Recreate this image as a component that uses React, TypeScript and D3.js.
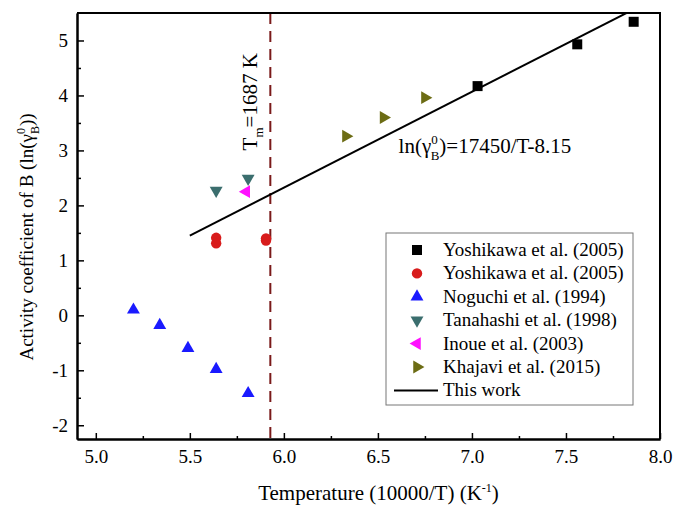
import React, { useEffect, useRef } from 'react';
import * as d3 from 'd3';

// values
const yoshikawaSqX = [7.03, 7.56, 7.86];
const yoshikawaSqY = [4.17, 4.93, 5.34];
const yoshikawaCircX = [5.64, 5.64, 5.905, 5.905];
const yoshikawaCircY = [1.41, 1.31, 1.4, 1.36];
const noguchiX = [5.2, 5.34, 5.49, 5.64, 5.81];
const noguchiY = [0.1, -0.18, -0.6, -0.98, -1.42];
const tanahashiX = [5.64, 5.81];
const tanahashiY = [2.27, 2.49];
const inoueX = [5.8];
const inoueY = [2.25];
const khajaviX = [6.33, 6.53, 6.75];
const khajaviY = [3.26, 3.6, 3.96];
const fitX = [5.5, 8.0];
const fitY = [1.45, 5.81];
const meltX = 5.928;

const xTicks = [5.0, 5.5, 6.0, 6.5, 7.0, 7.5, 8.0];
const xMinor = [5.25, 5.75, 6.25, 6.75, 7.25, 7.75];
const yTicks = [-2, -1, 0, 1, 2, 3, 4, 5];
const yMinor = [-1.5, -0.5, 0.5, 1.5, 2.5, 3.5, 4.5];

const legendLabels = [
  'Yoshikawa et al. (2005)',
  'Yoshikawa et al. (2005)',
  'Noguchi et al. (1994)',
  'Tanahashi et al. (1998)',
  'Inoue et al. (2003)',
  'Khajavi et al. (2015)',
  'This work',
];

const FONT = '"Liberation Serif", "Times New Roman", serif';

const App = () => {
  const ref = useRef<SVGSVGElement>(null);

  useEffect(() => {
    const W = 673;
    const H = 507;
    const margin = { top: 13, right: 13, bottom: 68, left: 77 };
    const w = W - margin.left - margin.right;
    const h = H - margin.top - margin.bottom;

    const root = d3.select(ref.current);
    root.selectAll('*').remove();

    const svg = root
      .append('g')
      .attr('transform', `translate(${margin.left},${margin.top})`);

    const x = d3.scaleLinear().domain([4.9, 8.0]).range([0, w]);
    const y = d3.scaleLinear().domain([-2.25, 5.5]).range([h, 0]);

    svg
      .append('clipPath')
      .attr('id', 'plotclip')
      .append('rect')
      .attr('width', w)
      .attr('height', h);

    // melting point line
    svg
      .append('line')
      .attr('x1', x(meltX))
      .attr('x2', x(meltX))
      .attr('y1', 0)
      .attr('y2', h)
      .attr('stroke', '#7a1a1a')
      .attr('stroke-width', 2)
      .attr('stroke-dasharray', '11,7');

    svg
      .append('text')
      .attr('transform', `translate(${x(meltX) - 13},${y(3.0)}) rotate(-90)`)
      .style('font-family', FONT)
      .style('font-size', '21px')
      .call((t) => {
        t.append('tspan').text('T');
        t.append('tspan').attr('dy', 6).style('font-size', '13px').text('m');
        t.append('tspan').attr('dy', -6).text('=1687 K');
      });

    // fit line
    const line = d3
      .line<number>()
      .x((d, i) => x(fitX[i]))
      .y((d) => y(d));
    svg
      .append('path')
      .attr('d', line(fitY))
      .attr('clip-path', 'url(#plotclip)')
      .attr('fill', 'none')
      .attr('stroke', '#000')
      .attr('stroke-width', 2);

    svg
      .append('text')
      .attr('x', x(6.61))
      .attr('y', y(2.95))
      .style('font-family', FONT)
      .style('font-size', '21px')
      .call((t) => {
        t.append('tspan').text('ln(γ');
        t.append('tspan').attr('dy', -9).style('font-size', '13px').text('0');
        t.append('tspan').attr('dx', -7).attr('dy', 16).style('font-size', '13px').text('B');
        t.append('tspan').attr('dy', -7).text(')=17450/T-8.15');
      });

    const series = [
      { xs: yoshikawaSqX, ys: yoshikawaSqY, type: d3.symbolSquare, size: 100, rot: 0, color: '#000000' },
      { xs: yoshikawaCircX, ys: yoshikawaCircY, type: d3.symbolCircle, size: 85, rot: 0, color: '#d81c1c' },
      { xs: noguchiX, ys: noguchiY, type: d3.symbolTriangle, size: 72, rot: 0, color: '#1a1aff' },
      { xs: tanahashiX, ys: tanahashiY, type: d3.symbolTriangle, size: 72, rot: 180, color: '#3b6e6e' },
      { xs: inoueX, ys: inoueY, type: d3.symbolTriangle, size: 72, rot: -90, color: '#ff10ff' },
      { xs: khajaviX, ys: khajaviY, type: d3.symbolTriangle, size: 72, rot: 90, color: '#6c6c14' },
    ];

    series.forEach((s) => {
      svg
        .append('g')
        .selectAll('path')
        .data(s.xs)
        .enter()
        .append('path')
        .attr('d', d3.symbol().type(s.type).size(s.size)())
        .attr('transform', (d, i) => `translate(${x(d)},${y(s.ys[i])}) rotate(${s.rot})`)
        .attr('fill', s.color);
    });

    // axes, ticks inward
    svg
      .append('g')
      .attr('transform', `translate(0,${h})`)
      .call(
        d3
          .axisBottom(x)
          .tickValues(xTicks)
          .tickSizeInner(-6)
          .tickSizeOuter(0)
          .tickPadding(11)
          .tickFormat(d3.format('.1f'))
      );
    svg
      .append('g')
      .attr('transform', `translate(0,${h})`)
      .call(d3.axisBottom(x).tickValues(xMinor).tickSizeInner(-3).tickSizeOuter(0).tickFormat(() => ''));

    svg
      .append('g')
      .call(
        d3
          .axisLeft(y)
          .tickValues(yTicks)
          .tickSizeInner(-7)
          .tickSizeOuter(0)
          .tickPadding(9)
          .tickFormat((d) => String(d)) // plain hyphen, not unicode minus
      );
    svg
      .append('g')
      .call(d3.axisLeft(y).tickValues(yMinor).tickSizeInner(-4).tickSizeOuter(0).tickFormat(() => ''));

    svg.selectAll('.domain').attr('stroke-width', 2);
    svg.selectAll('.tick line').attr('stroke-width', 1.5);
    svg.selectAll('.tick text').style('font-family', FONT).style('font-size', '19px').attr('fill', '#000');

    // top and right frame
    svg
      .append('path')
      .attr('d', `M0,0H${w}V${h}`)
      .attr('fill', 'none')
      .attr('stroke', '#000')
      .attr('stroke-width', 2);

    // axis titles
    svg
      .append('text')
      .attr('x', w / 2 + 10)
      .attr('y', h + 61)
      .attr('text-anchor', 'middle')
      .style('font-family', FONT)
      .style('font-size', '21px')
      .call((t) => {
        t.append('tspan').text('Temperature (10000/T) (K');
        t.append('tspan').attr('dy', -8).style('font-size', '12px').text('-1');
        t.append('tspan').attr('dy', 8).text(')');
      });

    svg
      .append('text')
      .attr('transform', `translate(${-44},${h / 2 + 11}) rotate(-90)`)
      .attr('text-anchor', 'middle')
      .style('font-family', FONT)
      .style('font-size', '19px')
      .call((t) => {
        t.append('tspan').text('Activity coefficient of B (ln(γ');
        t.append('tspan').attr('dy', -8).style('font-size', '12px').text('0');
        t.append('tspan').attr('dx', -6).attr('dy', 14).style('font-size', '12px').text('B');
        t.append('tspan').attr('dy', -6).text('))');
      });

    // legend
    const lg = svg.append('g').attr('transform', `translate(${386 - margin.left},${233 - margin.top})`);
    lg.append('rect')
      .attr('width', 247)
      .attr('height', 172)
      .attr('fill', '#fff')
      .attr('stroke', '#777')
      .attr('stroke-width', 1);
    legendLabels.forEach((label, i) => {
      const cy = 17 + i * 23.4;
      if (i < series.length) {
        const s = series[i];
        lg.append('path')
          .attr('d', d3.symbol().type(s.type).size(s.size)())
          .attr('transform', `translate(31,${cy}) rotate(${s.rot})`)
          .attr('fill', s.color);
      } else {
        lg.append('line')
          .attr('x1', 8)
          .attr('x2', 52)
          .attr('y1', cy)
          .attr('y2', cy)
          .attr('stroke', '#000')
          .attr('stroke-width', 2);
      }
      lg.append('text')
        .attr('x', 57)
        .attr('y', cy + 6)
        .style('font-family', FONT)
        .style('font-size', '19px')
        .text(label);
    });
  }, []);

  return (
    <svg
      ref={ref}
      width={673}
      height={507}
      style={{ position: 'absolute', left: 0, top: 0, background: '#fff' }}
    />
  );
};

export default App;
